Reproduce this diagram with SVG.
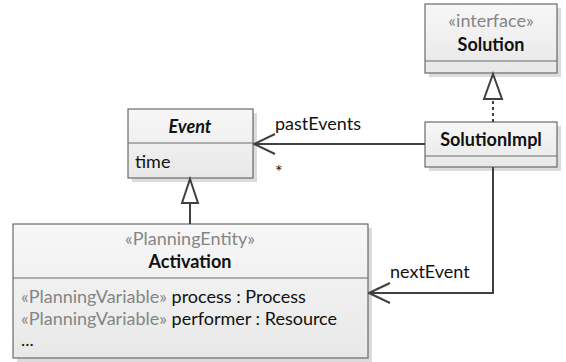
<svg xmlns="http://www.w3.org/2000/svg" width="566" height="362" viewBox="0 0 566 362">
  <defs>
    <linearGradient id="boxFill" x1="0" y1="0" x2="0" y2="1">
      <stop offset="0" stop-color="#f7f7f7"/>
      <stop offset="1" stop-color="#e8e8e8"/>
    </linearGradient>
    <marker id="openArrow" viewBox="0 0 24 24" refX="23" refY="12" markerWidth="24" markerHeight="24" markerUnits="userSpaceOnUse" orient="auto">
      <path d="M2,2 L23,12 L2,22" fill="none" stroke="#404040" stroke-width="2"/>
    </marker>
  </defs>
  <style>
    .shadow { fill: #dcdcdc; }
    .box { fill: url(#boxFill); stroke: #6a6a6a; stroke-width: 1.2; }
    .div { stroke: #6a6a6a; stroke-width: 1.2; }
    text { font-family: Lato, "Liberation Sans", sans-serif; font-size: 18px; fill: #111; }
    .name { font-weight: bold; text-anchor: middle; }
    .stereo { fill: #858585; text-anchor: middle; }
    .grey { fill: #858585; }
    .edge { fill: none; stroke: #404040; stroke-width: 2; }
    .gen { fill: #ffffff; stroke: #404040; stroke-width: 2; }
  </style>

  <!-- Solution interface -->
  <g id="solution">
    <rect class="shadow" x="429" y="8" width="132" height="69"/>
    <rect class="box" x="425" y="4" width="132" height="69"/>
    <line class="div" x1="425" y1="61" x2="557" y2="61"/>
    <text class="stereo" x="491" y="27">«interface»</text>
    <text class="name" x="491" y="51">Solution</text>
  </g>

  <!-- SolutionImpl class -->
  <g id="solutionImpl">
    <rect class="shadow" x="429" y="126" width="132" height="45"/>
    <rect class="box" x="425" y="122" width="132" height="45"/>
    <line class="div" x1="425" y1="156" x2="557" y2="156"/>
    <text class="name" x="491" y="146">SolutionImpl</text>
  </g>

  <!-- Event abstract class -->
  <g id="event">
    <rect class="shadow" x="132" y="113" width="125" height="69"/>
    <rect class="box" x="128" y="109" width="125" height="69"/>
    <line class="div" x1="128" y1="143" x2="253" y2="143"/>
    <text class="name" x="190" y="133" font-style="italic">Event</text>
    <text x="135" y="168">time</text>
  </g>

  <!-- Activation planning entity -->
  <g id="activation">
    <rect class="shadow" x="17" y="228" width="355" height="134"/>
    <rect class="box" x="13" y="224" width="355" height="134"/>
    <line class="div" x1="13" y1="278" x2="368" y2="278"/>
    <text class="stereo" x="190" y="245">«PlanningEntity»</text>
    <text class="name" x="190" y="268">Activation</text>
    <text x="21" y="303"><tspan class="grey">«PlanningVariable»</tspan> process : Process</text>
    <text x="21" y="325"><tspan class="grey">«PlanningVariable»</tspan> performer : Resource</text>
    <text x="21" y="346">...</text>
  </g>

  <!-- Connectors -->
  <g id="connectors">
    <!-- realization SolutionImpl -> Solution -->
    <line class="edge" x1="493" y1="122" x2="493" y2="99" stroke-dasharray="3,3"/>
    <path class="gen" d="M493,74 L502,99 L484,99 Z"/>
    <!-- generalization Activation -> Event -->
    <line class="edge" x1="190" y1="224" x2="190" y2="203"/>
    <path class="gen" d="M190,179 L198,203 L182,203 Z"/>
    <!-- pastEvents association -->
    <path class="edge" d="M425,144 L254,144" marker-end="url(#openArrow)"/>
    <text x="275" y="130">pastEvents</text>
    <text x="275" y="178" font-size="20">*</text>
    <!-- nextEvent association -->
    <path class="edge" d="M493,167 L493,293 L369,293" marker-end="url(#openArrow)"/>
    <text x="390" y="278">nextEvent</text>
  </g>
</svg>
